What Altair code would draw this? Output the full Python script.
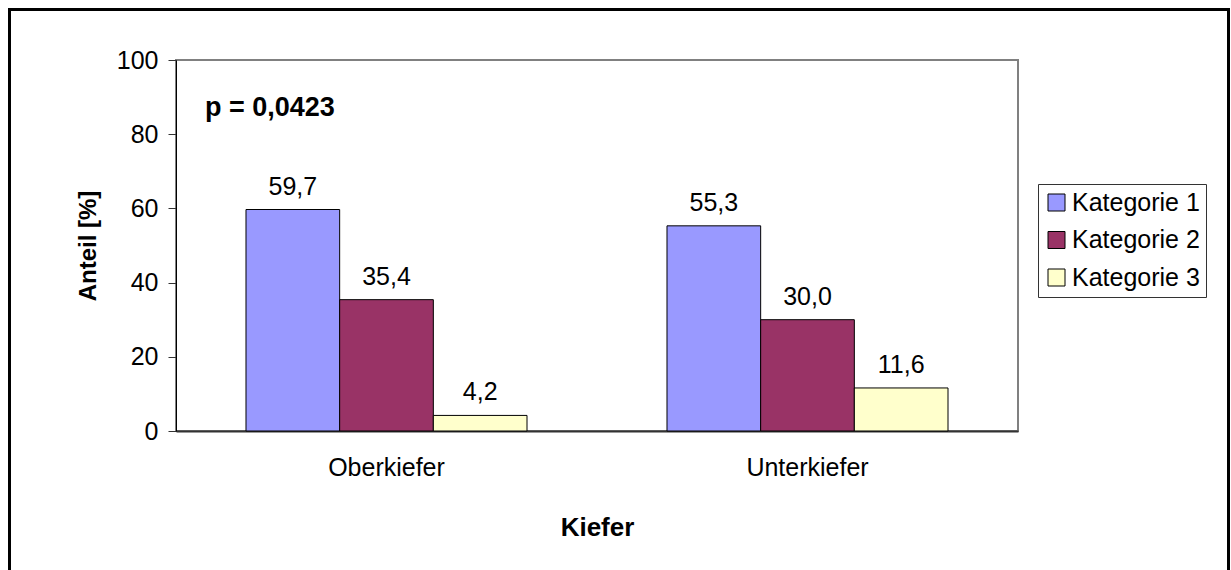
import altair as alt
import pandas as pd

# Kieferbereich und Kategorien
kiefer = ["Oberkiefer", "Unterkiefer"]
kategorien = ["Kategorie 1", "Kategorie 2", "Kategorie 3"]
anteil_oberkiefer = [59.7, 35.4, 4.2]
anteil_unterkiefer = [55.3, 30.0, 11.6]
farben = ["#9999FF", "#993366", "#FFFFCC"]
y_ticks = [0, 20, 40, 60, 80, 100]
p_text = "p = 0,0423"

rows = []
for k, werte in zip(kiefer, [anteil_oberkiefer, anteil_unterkiefer]):
    for kat, v in zip(kategorien, werte):
        rows.append({"Kiefer": k, "Kategorie": kat, "Anteil": v,
                     "Label": f"{v:.1f}".replace(".", ",")})
df = pd.DataFrame(rows)

FONT = "Liberation Sans"
W, H = 842, 371
FS = 25

x_enc = alt.X("Kiefer:N", sort=kiefer,
              scale=alt.Scale(paddingInner=0.3325, paddingOuter=0.16625),
              axis=alt.Axis(title="Kiefer", labelAngle=0, ticks=False,
                            labelPadding=24, titlePadding=34,
                            titleFontSize=26,
                            domainColor="#333333", domainWidth=2))
xoff_enc = alt.XOffset("Kategorie:N", sort=kategorien)
y_enc = alt.Y("Anteil:Q",
              scale=alt.Scale(domain=[0, 100], nice=False),
              axis=alt.Axis(title="Anteil [%]", values=y_ticks, grid=False,
                            tickSize=8, tickColor="#333333", labelPadding=10,
                            domainColor="#000000", titlePadding=16,
                            titleFontSize=24))

bars = alt.Chart(df).mark_bar(stroke="#000000", strokeWidth=1).encode(
    x=x_enc,
    xOffset=xoff_enc,
    y=y_enc,
    color=alt.Color("Kategorie:N", sort=kategorien,
                    scale=alt.Scale(domain=kategorien, range=farben),
                    legend=alt.Legend(title=None, orient="none",
                                      legendX=862, legendY=124,
                                      symbolType="square", symbolSize=289,
                                      symbolStrokeColor="#000000",
                                      symbolStrokeWidth=1,
                                      labelFontSize=FS, labelFont=FONT,
                                      labelColor="#000000", labelLimit=300,
                                      labelOffset=3, rowPadding=11.5,
                                      padding=6, strokeColor="#333333",
                                      fillColor="#FFFFFF")),
)

labels = alt.Chart(df).mark_text(
    baseline="alphabetic", dy=-15, fontSize=FS, font=FONT, color="#000000"
).encode(
    x=alt.X("Kiefer:N", sort=kiefer),
    xOffset=xoff_enc,
    y="Anteil:Q",
    text="Label:N",
)

p_label = alt.Chart(pd.DataFrame({"t": [p_text], "y": [87]})).mark_text(
    align="left", baseline="middle", fontSize=27, fontWeight="bold",
    font=FONT, color="#000000"
).encode(x=alt.value(29), y=alt.Y("y:Q"), text="t:N")

frame = alt.Chart(pd.DataFrame({"a": [0]})).mark_rect(
    fill=None, stroke="#000000", strokeWidth=3
).encode(
    x=alt.value(-166.5), x2=alt.value(1052.5),
    y=alt.value(-50.5), y2=alt.value(540),
)

chart = alt.layer(frame, bars, labels, p_label).properties(
    width=W, height=H,
    autosize=alt.AutoSizeParams(type="none"),
    padding={"left": 176, "top": 60, "right": 1231 - 176 - W,
             "bottom": 570 - 60 - H},
    background="#FFFFFF",
).configure_view(
    stroke="#808080", strokeWidth=2
).configure_axis(
    labelFont=FONT, labelFontSize=FS, labelColor="#000000",
    titleFont=FONT, titleFontWeight="bold",
    titleColor="#000000",
)

chart.save("out.html", embed_options={"renderer": "svg", "actions": False})
